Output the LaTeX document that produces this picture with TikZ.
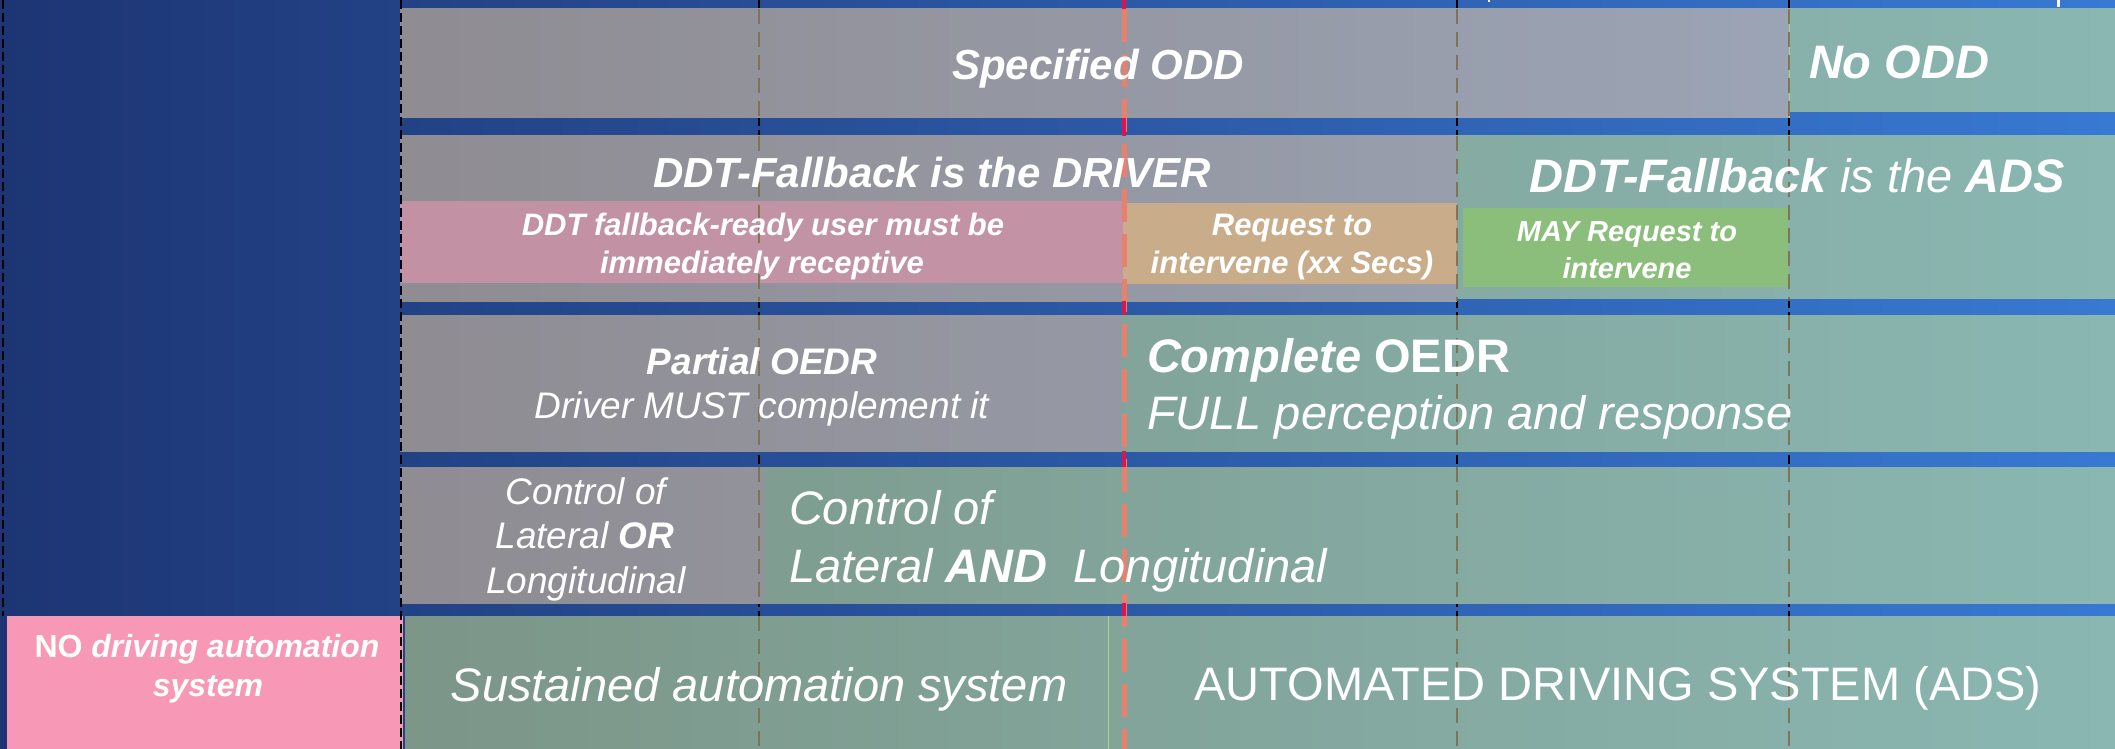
\documentclass[tikz,border=0pt]{standalone}
\usepackage{fontspec}
\setmainfont{Liberation Sans}
\newcommand\pxfont[1]{\fontsize{#1}{#1}\selectfont}

\definecolor{bgL}{HTML}{1D3573}
\definecolor{bgR}{HTML}{3879D3}
\definecolor{grayL}{HTML}{8F8C92}
\definecolor{grayR}{HTML}{9BA4B5}
\definecolor{tealL}{HTML}{7C9688}
\definecolor{tealR}{HTML}{8AB7B2}
\definecolor{pinkband}{HTML}{C793A6}
\definecolor{orangeband}{HTML}{C9AD8A}
\definecolor{greenband}{HTML}{8BBE7B}
\definecolor{nopink}{HTML}{F799B6}
\definecolor{crimson}{HTML}{DC1450}
\definecolor{salmon}{HTML}{E8806C}
\definecolor{olive}{HTML}{7A6E4A}
\definecolor{paleline}{HTML}{B0CE90}

\begin{document}
\begin{tikzpicture}[x=1pt,y=-1pt,
  txt/.style={text=white, inner sep=0pt, outer sep=0pt},
  bi/.style={txt, font={\bfseries\itshape\pxfont{#1}}},
  it/.style={txt, font={\itshape\pxfont{#1}}},
  up/.style={txt, font={\pxfont{#1}}},
  blackdash/.style={black, line width=2pt, dash pattern=on 9pt off 4pt},
  olivedash/.style={olive, line width=1.6pt, dash pattern=on 15pt off 8pt, opacity=0.85},
  levelline/.style={crimson, line width=4pt},
  leveldash/.style={salmon, line width=5pt, dash pattern=on 33pt off 12pt}]
\useasboundingbox (0,0) rectangle (2115,749);

% background
\shade[left color=bgL, right color=bgR] (0,0) rectangle (2115,749);

% level boundaries behind the bands
\foreach \gx in {759,1457,1789} \draw[blackdash] (\gx,0) -- (\gx,749);
\draw[levelline] (1124,0) -- (1124,749);

% row 1: ODD
\shade[left color=grayL, right color=grayR] (400,9) rectangle (1789,118);
\shade[left color=tealR!81!tealL, right color=tealR] (1789,9) rectangle (2115,112);
\draw[paleline, line width=1pt] (1789,9) -- (1789,118);

% row 2: DDT fallback
\shade[left color=grayL, right color=grayR!76!grayL] (400,136) rectangle (1457,301);
\shade[left color=tealR!62!tealL, right color=tealR] (1457,136) rectangle (2115,298);
\fill[pinkband, opacity=0.92] (400,201) rectangle (1123,283);
\fill[orangeband] (1123,203) rectangle (1457,284);
\fill[greenband] (1463,208) rectangle (1788,287);

% row 3: OEDR
\shade[left color=grayL, right color=grayR!52!grayL] (400,315) rectangle (1121,451);
\shade[left color=tealR!42!tealL, right color=tealR] (1121,315) rectangle (2115,451);

% row 4: lateral / longitudinal control
\shade[left color=grayL, right color=grayR!26!grayL] (400,467) rectangle (765,603);
\shade[left color=tealR!21!tealL, right color=tealR] (765,467) rectangle (2115,603);

% row 5: system type
\fill[nopink] (7,616) rectangle (403,749);
\shade[left color=tealL, right color=tealR] (405,616) rectangle (2115,749);
\draw[paleline, line width=1pt] (1108,616) -- (1108,749);

% level boundaries over the bands
\foreach \gx in {759,1457,1789}
  \foreach \ya/\yb in {9/118,136/301,315/451,467/603,616/749}
    \draw[olivedash] (\gx,\ya) -- (\gx,\yb);
\draw[blackdash] (3,0) -- (3,616);
\draw[blackdash] (401,0) -- (401,749);
\draw[leveldash] (1124,9) -- (1124,749);
\foreach \ya/\yb in {0/9,118/136,301/315,451/467,603/616}
  \draw[levelline] (1124,\ya) -- (1124,\yb);

% marks at the upper edge
\draw[white, line width=3pt] (2058,0) -- (2058,7);
\draw[white, line width=2pt] (1489,0) -- (1489,2);

% texts
\node[bi=42, anchor=base] (odd) at (1098,80) {Specified ODD};
\node[bi=47, anchor=base west] (noodd) at (1809,79) {No ODD};

\node[bi=42, anchor=base] (fbdriver) at (932,187) {DDT-Fallback is the DRIVER};
\node[it=47, anchor=base] (fbads) at (1797,193) {\textbf{DDT-Fallback} is the \textbf{ADS}};
\node[bi=31, anchor=base] (ready1) at (763,235) {DDT fallback-ready user must be};
\node[bi=31, anchor=base] (ready2) at (762,273) {immediately receptive};
\node[bi=31, anchor=base] (req1) at (1292,235) {Request to};
\node[bi=31, anchor=base] (req2) at (1292,273) {intervene (xx Secs)};
\node[bi=29, anchor=base] (may1) at (1627,241) {MAY Request to};
\node[bi=29, anchor=base] (may2) at (1627,278) {intervene};

\node[bi=37, anchor=base] (partial) at (762,374) {Partial OEDR};
\node[it=37, anchor=base] (partial2) at (762,418) {Driver MUST complement it};
\node[txt, font={\bfseries\pxfont{47}}, anchor=base west] (complete) at (1147,372) {\textit{Complete} OEDR};
\node[it=47, anchor=base west] (complete2) at (1147,429) {FULL perception and response};

\node[it=37, anchor=base] (ctlora) at (586,504) {Control of};
\node[it=37, anchor=base] (ctlorb) at (585,548) {Lateral \textbf{OR}};
\node[it=37, anchor=base] (ctlorc) at (586,593) {Longitudinal};
\node[it=47, anchor=base west] (ctlanda) at (789,524) {Control of};
\node[it=47, anchor=base west] (ctlandb) at (789,582) {Lateral \textbf{AND}\ \ Longitudinal};

\node[txt, font={\bfseries\pxfont{32}}, anchor=base] (none1) at (207,657) {NO \textit{driving automation}};
\node[bi=32, anchor=base] (none2) at (208,696) {system};
\node[it=47, anchor=base] (sustained) at (759,701) {Sustained automation system};
\node[up=47, anchor=base] (ads) at (1618,700) {AUTOMATED DRIVING SYSTEM (ADS)};
\end{tikzpicture}
\end{document}
